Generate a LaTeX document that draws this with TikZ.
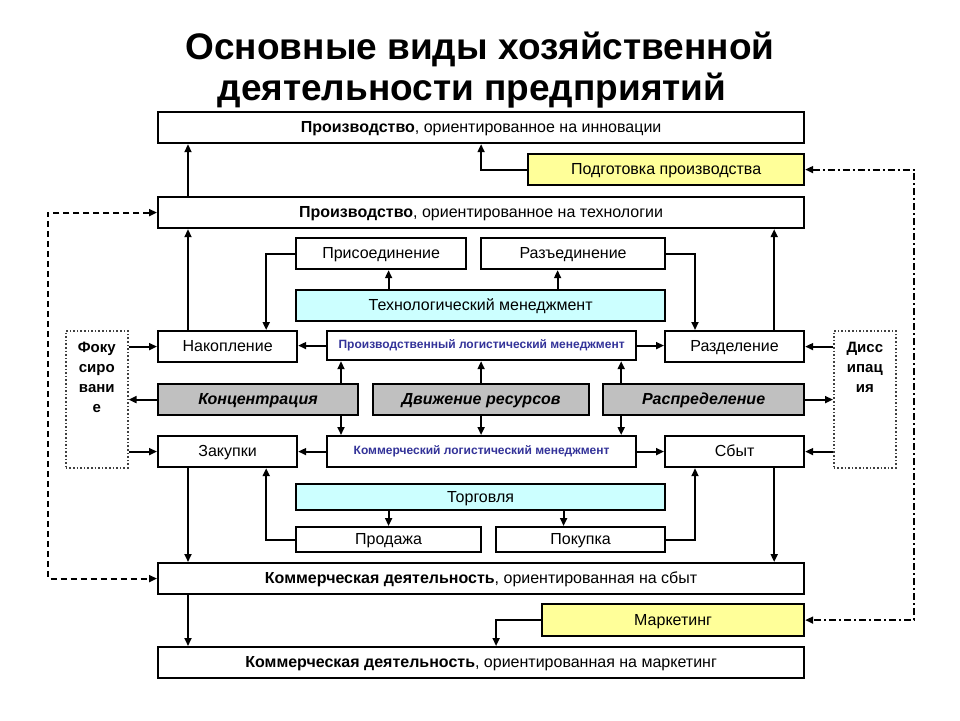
\documentclass[tikz,border=0pt]{standalone}
\usepackage{fontspec}
\setmainfont{Liberation Sans}
\usetikzlibrary{arrows.meta}
\definecolor{boxyellow}{RGB}{255,255,153}
\definecolor{boxcyan}{RGB}{204,255,255}
\definecolor{boxgray}{RGB}{192,192,192}
\definecolor{lognavy}{RGB}{51,51,153}
\begin{document}
\begin{tikzpicture}[x=1pt, y=-1pt,
    box/.style={draw, line width=2.2pt, fill=white, anchor=north west, inner sep=0pt, align=center, text height=11.5pt, text depth=1pt, font=\fontsize{16}{18}\selectfont},
    sz/.style 2 args={minimum width=#1, minimum height=#2},
    logbox/.style={box, text=lognavy, text height=8.6pt, text depth=2pt, font=\bfseries\fontsize{12}{14}\selectfont},
    keybox/.style={box, fill=boxgray, font=\bfseries\itshape\fontsize{16}{18}\selectfont},
    sidebox/.style={draw=black!75, dotted, line width=1.6pt, fill=white, anchor=north west, inner sep=0pt, minimum width=62pt, minimum height=137pt},
    sidetext/.style={align=center, inner sep=0pt, font=\bfseries\fontsize{15}{20}\selectfont},
    arr/.style={line width=1.9pt, -{Triangle[length=8pt,width=7pt]}},
    dashlink/.style={line width=1.9pt, dash pattern=on 6pt off 4pt, {Triangle[length=8pt,width=7pt]}-{Triangle[length=8pt,width=7pt]}},
    dotlink/.style={line width=1.9pt, dash pattern=on 7pt off 3pt on 2pt off 3pt, {Triangle[length=8pt,width=7pt]}-{Triangle[length=8pt,width=7pt]}}]
    \fill[white] (0,0) rectangle (960,720);
    \useasboundingbox (0,0) rectangle (960,720);
    \node[font=\bfseries\fontsize{37}{41}\selectfont, align=center] (title) at (480,70) {Основные виды хозяйственной\\деятельности предприятий\hspace*{16pt}};
    \node[box, sz={646pt}{31pt}] (innov) at (157,111) {\textbf{Производство}, ориентированное на инновации};
    \node[box, fill=boxyellow, sz={276pt}{31pt}] (prep) at (527,153) {Подготовка производства};
    \node[box, sz={646pt}{31pt}] (techprod) at (157,196) {\textbf{Производство}, ориентированное на технологии};
    \node[box, sz={170pt}{31pt}] (pris) at (295,237) {Присоединение};
    \node[box, sz={184pt}{31pt}] (razed) at (480,237) {Разъединение};
    \node[box, fill=boxcyan, sz={369pt}{31pt}] (techm) at (295,289) {Технологический менеджмент};
    \node[box, sz={139pt}{31pt}] (nak) at (157,330) {Накопление};
    \node[logbox, sz={309pt}{29pt}] (plm) at (326,330) {Производственный логистический менеджмент};
    \node[box, sz={139pt}{31pt}] (razd) at (664,330) {Разделение};
    \node[sidebox] (fok) at (65,330) {};
    \node[sidebox] (diss) at (833,330) {};
    \node[sidetext, below=12pt] (foktext) at (fok.north) {Фоку\\сиро\\вани\\е};
    \node[sidetext, below=12pt] (disstext) at (diss.north) {Дисс\\ипац\\ия};
    \node[keybox, sz={200pt}{31pt}] (konc) at (157,383) {Концентрация};
    \node[keybox, sz={216pt}{31pt}] (dvizh) at (372,383) {Движение ресурсов};
    \node[keybox, sz={201pt}{31pt}] (rasp) at (602,383) {Распределение};
    \node[box, sz={139pt}{31pt}] (zak) at (157,435) {Закупки};
    \node[logbox, sz={309pt}{31pt}] (clm) at (326,435) {Коммерческий логистический менеджмент};
    \node[box, sz={139pt}{31pt}] (sbyt) at (664,435) {Сбыт};
    \node[box, fill=boxcyan, sz={369pt}{26pt}] (torg) at (295,483) {Торговля};
    \node[box, sz={185pt}{25pt}] (prod) at (295,526) {Продажа};
    \node[box, sz={169pt}{25pt}] (pok) at (495,526) {Покупка};
    \node[box, sz={646pt}{31pt}] (commsb) at (157,562) {\textbf{Коммерческая деятельность}, ориентированная на сбыт};
    \node[box, fill=boxyellow, sz={262pt}{32pt}] (mark) at (541,603) {Маркетинг};
    \node[box, sz={646pt}{31pt}] (commmk) at (157,646) {\textbf{Коммерческая деятельность}, ориентированная на маркетинг};
    \draw[arr] ([xshift=31pt]techprod.north west) -- ([xshift=31pt]innov.south west);
    \draw[arr] (prep.west) -| (innov.south);
    \draw[dashlink] (techprod.west) -- ++(-109,0) |- (commsb.west);
    \draw[dotlink] (prep.east) -- ++(109,0) |- (mark.east);
    \draw[arr] ([xshift=31pt]nak.north west) -- ([xshift=31pt]techprod.south west);
    \draw[arr] (pris.west) -| ([xshift=-32pt]nak.north east);
    \draw[arr] (razed.east) -| ([xshift=31pt]razd.north west);
    \draw[arr] ([xshift=-31pt]razd.north east) -- ([xshift=-31pt]techprod.south east);
    \draw[arr] ([xshift=-92pt]techm.north) -- ([xshift=-92pt]techm.north |- pris.south);
    \draw[arr] ([xshift=77pt]techm.north) -- ([xshift=77pt]techm.north |- razed.south);
    \draw[arr] (plm.west) -- (plm.west -| nak.east);
    \draw[arr] (plm.east) -- (plm.east -| razd.west);
    \draw[arr] (nak.west -| fok.east) -- (nak.west);
    \draw[arr] (konc.west) -- (konc.west -| fok.east);
    \draw[arr] (zak.west -| fok.east) -- (zak.west);
    \draw[arr] (razd.east -| diss.west) -- (razd.east);
    \draw[arr] (rasp.east) -- (rasp.east -| diss.west);
    \draw[arr] (sbyt.east -| diss.west) -- (sbyt.east);
    \draw[arr] ([xshift=15pt]plm.south west |- konc.north) -- ([xshift=15pt]plm.south west);
    \draw[arr] ([xshift=15pt]clm.north west |- konc.south) -- ([xshift=15pt]clm.north west);
    \draw[arr] (dvizh.north) -- (dvizh.north |- plm.south);
    \draw[arr] (dvizh.south) -- (dvizh.south |- clm.north);
    \draw[arr] ([xshift=-16pt]plm.south east |- rasp.north) -- ([xshift=-16pt]plm.south east);
    \draw[arr] ([xshift=-16pt]clm.north east |- rasp.south) -- ([xshift=-16pt]clm.north east);
    \draw[arr] (clm.west) -- (clm.west -| zak.east);
    \draw[arr] (clm.east) -- (clm.east -| sbyt.west);
    \draw[arr] ([xshift=31pt]zak.south west) -- ([xshift=31pt]commsb.north west);
    \draw[arr] (prod.west) -| ([xshift=-32pt]zak.south east);
    \draw[arr] (pok.east) -| ([xshift=31pt]sbyt.south west);
    \draw[arr] ([xshift=-31pt]sbyt.south east) -- ([xshift=-31pt]commsb.north east);
    \draw[arr] ([xshift=-92pt]torg.south) -- ([xshift=-92pt]torg.south |- prod.north);
    \draw[arr] ([xshift=83pt]torg.south) -- ([xshift=83pt]torg.south |- pok.north);
    \draw[arr] ([xshift=31pt]commsb.south west) -- ([xshift=31pt]commmk.north west);
    \draw[arr] (mark.west) -| ([xshift=15pt]commmk.north);
\end{tikzpicture}
\end{document}
